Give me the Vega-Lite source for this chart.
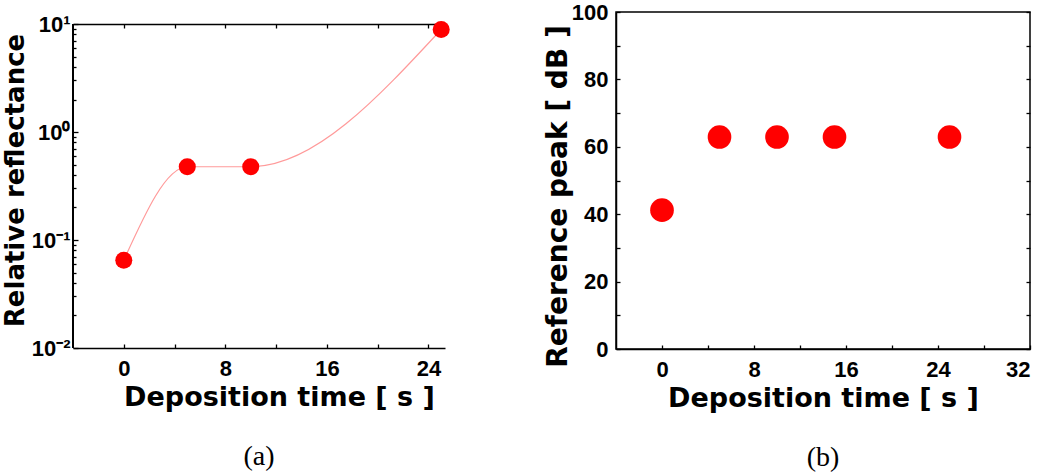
{
  "$schema": "https://vega.github.io/schema/vega-lite/v6.json",
  "background": "white",
  "padding": {"left": 2, "top": 0, "right": 0, "bottom": 0},
  "spacing": 93,
  "config": {
    "view": {"stroke": null},
    "font": "Liberation Sans",
    "axis": {
      "labelFont": "Liberation Sans", "labelFontWeight": "bold", "labelFontSize": 22, "labelColor": "black",
      "titleFont": "DejaVu Sans", "titleFontWeight": "bold", "titleFontSize": 27, "titleColor": "black",
      "domainColor": "black", "domainWidth": 1.5, "tickColor": "black", "tickWidth": 1.3, "grid": false
    },
    "title": {"font": "Liberation Serif", "fontSize": 28, "fontWeight": "normal", "color": "black", "orient": "bottom", "anchor": "middle"}
  },
  "hconcat": [
    {
      "width": 372,
      "height": 336,
      "title": {"text": "(a)", "orient": "bottom", "offset": 33},
      "data": {"values": [
        {"t": 0, "r": 0.065},
        {"t": 5, "r": 0.477},
        {"t": 10, "r": 0.477},
        {"t": 25, "r": 8.9}
      ]},
      "layer": [
        {
          "mark": {"type": "line", "interpolate": "monotone", "color": "#ff9a9a", "strokeWidth": 1.2},
          "encoding": {
            "x": {"field": "t", "type": "quantitative",
              "scale": {"domain": [-4, 25.3], "nice": false, "zero": false},
              "axis": {"orient": "bottom", "values": [0, 8, 16, 24], "ticks": false,
                "labelPadding": 10, "title": "Deposition time [ s ]", "titleFontSize": 27, "titlePadding": 5, "titleX": 206}},
            "y": {"field": "r", "type": "quantitative",
              "scale": {"type": "log", "domain": [0.01, 12.92], "nice": false},
              "axis": {"orient": "left", "values": [0.01, 0.1, 1, 10], "ticks": false, "domain": false,
                "labelExpr": "datum.value >= 5 ? '10¹' : datum.value >= 0.5 ? '10⁰' : datum.value >= 0.05 ? '10⁻¹' : '10⁻²'",
                "labelPadding": 3, "title": "Relative reflectance", "titleFontSize": 26, "titlePadding": 3}}
          }
        },
        {
          "mark": {"type": "rule", "color": "black", "strokeWidth": 1.5},
          "encoding": {
            "x": {"datum": -4, "type": "quantitative", "axis": null},
            "y": {"datum": 0.01, "type": "quantitative", "axis": null},
            "y2": {"datum": 10}
          }
        },
        {
          "mark": {"type": "circle", "color": "#ff0000", "opacity": 1, "size": 290},
          "encoding": {
            "x": {"field": "t", "type": "quantitative",
              "axis": {"orient": "bottom", "values": [0, 4, 8, 12, 16, 20, 24], "labels": false, "domain": false,
                "tickSize": 4, "offset": -4, "title": null}},
            "y": {"field": "r", "type": "quantitative",
              "axis": {"orient": "left", "values": [0.01, 0.1, 1, 10], "labels": false, "domain": false,
                "tickSize": 5, "offset": -5, "title": null}}
          }
        },
        {
          "mark": {"type": "circle", "opacity": 0},
          "encoding": {
            "x": {"field": "t", "type": "quantitative",
              "axis": {"orient": "top", "values": [0], "labels": false, "ticks": false, "offset": -12, "title": null}},
            "y": {"field": "r", "type": "quantitative",
              "axis": {"orient": "left", "values": [0.02, 0.03, 0.04, 0.05, 0.06, 0.07, 0.08, 0.09, 0.2, 0.3, 0.4, 0.5, 0.6, 0.7, 0.8, 0.9, 2, 3, 4, 5, 6, 7, 8, 9],
                "labels": false, "domain": false, "tickSize": 3, "offset": -3, "title": null}}
          }
        },
        {
          "mark": {"type": "circle", "opacity": 0},
          "encoding": {
            "x": {"field": "t", "type": "quantitative",
              "axis": {"orient": "top", "values": [0, 4, 8, 12, 16, 20, 24], "labels": false, "domain": false,
                "tickSize": 4, "offset": -16, "title": null}},
            "y": {"field": "r", "type": "quantitative", "axis": null}
          }
        }
      ],
      "resolve": {"axis": {"x": "independent", "y": "independent"}}
    },
    {
      "width": 414,
      "height": 337,
      "view": {"stroke": "black", "strokeWidth": 1.5},
      "title": {"text": "(b)", "orient": "bottom", "offset": 33},
      "data": {"values": [
        {"t": 0, "p": 41.2},
        {"t": 5, "p": 62.9},
        {"t": 10, "p": 62.9},
        {"t": 15, "p": 62.9},
        {"t": 25, "p": 62.9}
      ]},
      "layer": [
        {
          "mark": {"type": "circle", "color": "#ff0000", "opacity": 1, "size": 560},
          "encoding": {
            "x": {"field": "t", "type": "quantitative",
              "scale": {"domain": [-4, 32], "nice": false, "zero": false},
              "axis": {"orient": "bottom", "values": [0, 8, 16, 24, 32], "ticks": false,
                "labelPadding": 10, "title": "Deposition time [ s ]", "titleFontSize": 27, "titlePadding": 5}},
            "y": {"field": "p", "type": "quantitative",
              "scale": {"domain": [0, 100], "nice": false},
              "axis": {"orient": "left", "values": [0, 20, 40, 60, 80, 100], "ticks": false,
                "labelPadding": 8, "title": "Reference peak [ dB ]", "titleFontSize": 28, "titlePadding": -1, "titleY": 184}}
          }
        },
        {
          "mark": {"type": "circle", "opacity": 0},
          "encoding": {
            "x": {"field": "t", "type": "quantitative",
              "axis": {"orient": "bottom", "values": [0, 4, 8, 12, 16, 20, 24, 28, 32], "labels": false, "domain": false,
                "tickSize": 4, "offset": -4, "title": null}},
            "y": {"field": "p", "type": "quantitative",
              "axis": {"orient": "left", "values": [0, 10, 20, 30, 40, 50, 60, 70, 80, 90, 100], "labels": false, "domain": false,
                "tickSize": 4, "offset": -4, "title": null}}
          }
        },
        {
          "mark": {"type": "circle", "opacity": 0},
          "encoding": {
            "x": {"field": "t", "type": "quantitative", "axis": null},
            "y": {"field": "p", "type": "quantitative",
              "axis": {"orient": "right", "values": [0, 10, 20, 30, 40, 50, 60, 70, 80, 90, 100], "labels": false, "domain": false,
                "tickSize": 4, "offset": -4, "title": null}}
          }
        }
      ],
      "resolve": {"axis": {"x": "independent", "y": "independent"}}
    }
  ]
}
